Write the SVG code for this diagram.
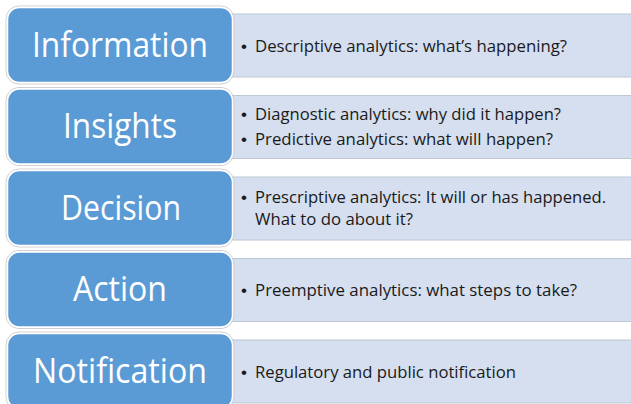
<svg xmlns="http://www.w3.org/2000/svg" width="631" height="404" viewBox="0 0 631 404">
<style>
.bg{fill:#ffffff}
.detail{fill:#D5DFEF;stroke:#BEC7D4;stroke-width:1}
.halo{fill:none;stroke:#CFCFCF;stroke-width:1}
.box{fill:#5B9BD5;stroke:#ffffff;stroke-width:1.5}
.title{font-family:"Open Sans","Noto Sans","Liberation Sans",sans-serif;font-size:34px;fill:#ffffff;text-anchor:middle}
.body{font-family:"Open Sans","Noto Sans","Liberation Sans",sans-serif;font-size:16px;fill:#1a1a1a}
.bul{font-family:"Liberation Sans",sans-serif;font-size:17px;fill:#1a1a1a;text-anchor:middle}
</style>
<rect class="bg" x="0" y="0" width="631" height="404"/>
<g id="connectors"/>
<g id="node-information">
<rect class="detail" x="226" y="14" width="410" height="63"/>
<rect class="halo" x="6" y="6" width="228" height="78" rx="13"/>
<rect class="box" x="7.5" y="7.5" width="225" height="75" rx="12"/>
<text class="title" x="120" y="56.5" textLength="176" lengthAdjust="spacingAndGlyphs">Information</text>
<text class="bul" x="244" y="51.5">•</text>
<text class="body" x="255" y="51.5" textLength="312" lengthAdjust="spacingAndGlyphs">Descriptive analytics: what’s happening?</text>
</g>
<g id="node-insights">
<rect class="detail" x="226" y="95.5" width="410" height="63"/>
<rect class="halo" x="6" y="87.5" width="228" height="78" rx="13"/>
<rect class="box" x="7.5" y="89" width="225" height="75" rx="12"/>
<text class="title" x="120" y="138" textLength="114" lengthAdjust="spacingAndGlyphs">Insights</text>
<text class="bul" x="244" y="119.5">•</text>
<text class="body" x="255" y="119.5" textLength="306" lengthAdjust="spacingAndGlyphs">Diagnostic analytics: why did it happen?</text>
<text class="bul" x="244" y="145">•</text>
<text class="body" x="255" y="145" textLength="298" lengthAdjust="spacingAndGlyphs">Predictive analytics: what will happen?</text>
</g>
<g id="node-decision">
<rect class="detail" x="226" y="177" width="410" height="63"/>
<rect class="halo" x="6" y="169" width="228" height="78" rx="13"/>
<rect class="box" x="7.5" y="170.5" width="225" height="75" rx="12"/>
<text class="title" x="121" y="219.5" textLength="120" lengthAdjust="spacingAndGlyphs">Decision</text>
<text class="bul" x="244" y="203">•</text>
<text class="body" x="255" y="203" textLength="351" lengthAdjust="spacingAndGlyphs">Prescriptive analytics: It will or has happened.</text>
<text class="body" x="255" y="225" textLength="158" lengthAdjust="spacingAndGlyphs">What to do about it?</text>
</g>
<g id="node-action">
<rect class="detail" x="226" y="258.5" width="410" height="63"/>
<rect class="halo" x="6" y="250.5" width="228" height="78" rx="13"/>
<rect class="box" x="7.5" y="252" width="225" height="75" rx="12"/>
<text class="title" x="120" y="301" textLength="94" lengthAdjust="spacingAndGlyphs">Action</text>
<text class="bul" x="244" y="296">•</text>
<text class="body" x="255" y="296" textLength="322" lengthAdjust="spacingAndGlyphs">Preemptive analytics: what steps to take?</text>
</g>
<g id="node-notification">
<rect class="detail" x="226" y="340" width="410" height="63"/>
<rect class="halo" x="6" y="332" width="228" height="78" rx="13"/>
<rect class="box" x="7.5" y="333.5" width="225" height="75" rx="12"/>
<text class="title" x="120" y="382.5" textLength="174" lengthAdjust="spacingAndGlyphs">Notification</text>
<text class="bul" x="244" y="377.5">•</text>
<text class="body" x="255" y="377.5" textLength="261" lengthAdjust="spacingAndGlyphs">Regulatory and public notification</text>
</g>
</svg>
